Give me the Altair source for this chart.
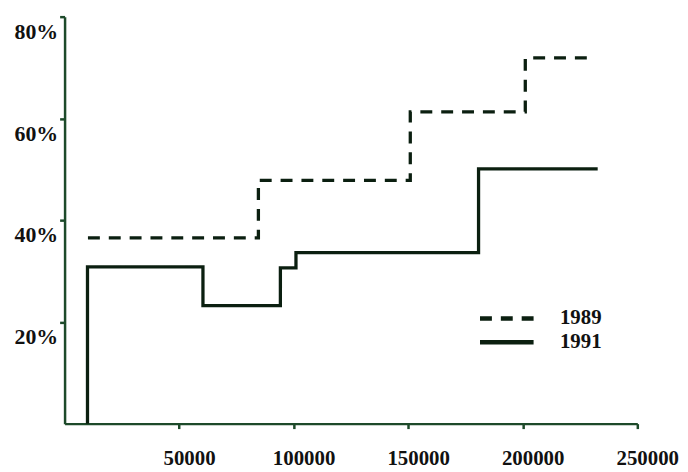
import altair as alt
import pandas as pd

# 1991 (solid) step series
x_1991 = [10000, 10000, 60400, 94200, 101000, 180700, 232700]
y_1991 = [0, 30.8, 23.2, 30.6, 33.6, 50.1, 50.1]
# 1989 (dashed) step series
x_1989 = [10200, 84600, 150900, 201100, 231000]
y_1989 = [36.5, 47.8, 61.3, 71.9, 71.9]

x_ticks = [50000, 100000, 150000, 200000, 250000]
y_ticks = [20, 40, 60, 80]

rows = []
for i, (x, y) in enumerate(zip(x_1989, y_1989)):
    rows.append({"year": "1989", "x": x, "y": y, "i": i})
for i, (x, y) in enumerate(zip(x_1991, y_1991)):
    rows.append({"year": "1991", "x": x, "y": y, "i": i})
df = pd.DataFrame(rows)

LINE = "#0b1f10"
AXIS = "#1d4a2a"
FONT = "Liberation Serif"

chart = alt.Chart(df).mark_line(
    interpolate="step-after", strokeWidth=3.3, color=LINE, strokeCap="butt"
).encode(
    x=alt.X("x:Q", scale=alt.Scale(domain=[0, 250000], nice=False, zero=True),
            axis=alt.Axis(values=x_ticks, title=None, grid=False, format="d",
                          labelFont=FONT, labelFontWeight="bold", labelFontSize=21,
                          labelColor="#111111", labelPadding=19, labelOffset=10,
                          tickSize=5, tickWidth=2.5, tickColor=AXIS,
                          domainColor=AXIS, domainWidth=2.5, labelFlush=False)),
    y=alt.Y("y:Q", scale=alt.Scale(domain=[0, 80], nice=False),
            axis=alt.Axis(values=y_ticks, title=None, grid=False,
                          labelExpr="datum.value + '%'",
                          labelFont=FONT, labelFontWeight="bold", labelFontSize=22,
                          labelColor="#111111", labelPadding=2, labelOffset=15,
                          tickSize=5, tickWidth=2.5, tickColor=AXIS,
                          domainColor=AXIS, domainWidth=2.5, labelFlush=False)),
    strokeDash=alt.StrokeDash(
        "year:N",
        scale=alt.Scale(domain=["1989", "1991"], range=[[12, 9], [1, 0]]),
        legend=alt.Legend(title=None, orient="none", legendX=416, legendY=293,
                          symbolType="stroke", symbolSize=2916,
                          symbolStrokeWidth=4.5, symbolStrokeColor=LINE,
                          labelFont=FONT, labelFontWeight="bold", labelFontSize=21,
                          labelColor="#111111", labelOffset=24, rowPadding=2,
                          clipHeight=22,
                          labelBaseline="middle", labelLimit=200)),
    order="i:Q",
).properties(
    width=577, height=410,
    padding={"left": 57, "top": 7, "right": 43, "bottom": 47},
    autosize=alt.AutoSizeParams(type="none"),
).configure_view(stroke=None)

chart.save("out.html", embed_options={"renderer": "svg", "actions": False})
